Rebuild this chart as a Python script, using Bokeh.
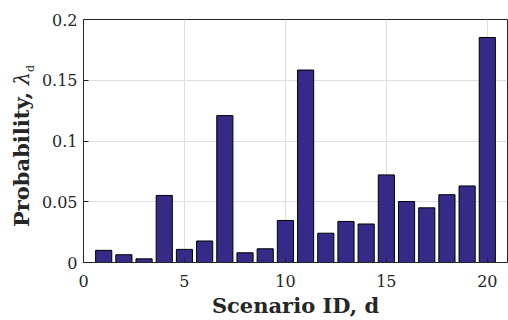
from bokeh.plotting import figure
from bokeh.models import Range1d, FixedTicker, Div
from bokeh.layouts import row
from bokeh.embed import file_html
from bokeh.resources import INLINE

scenario = list(range(1, 21))
prob = [0.0100, 0.0064, 0.0030, 0.0552, 0.0108, 0.0177, 0.1209, 0.0080, 0.0113, 0.0346,
        0.1584, 0.0241, 0.0338, 0.0317, 0.0721, 0.0502, 0.0450, 0.0558, 0.0630, 0.1852]
x_ticks = [0, 5, 10, 15, 20]
y_ticks = [0, 0.05, 0.1, 0.15, 0.2]
y_tick_labels = {0: "0", 0.05: "0.05", 0.1: "0.1", 0.15: "0.15", 0.2: "0.2"}

FONT = "DejaVu Serif"
H = 320
DW = 35                      # width of the y-label strip
W = 508 - DW
FL, FR, FT, FB = 83 - DW, 507 - DW, 19, 268  # frame edges in figure pixels
p = figure(width=W, height=H, output_backend="svg", toolbar_location=None,
           x_range=Range1d(0, 21), y_range=Range1d(0, 0.2),
           min_border_left=FL, min_border_right=W - FR, min_border_top=FT,
           min_border_bottom=H - FB, margin=0)

p.vbar(x=scenario, top=prob, width=0.8, fill_color="#352A87", line_color="black", line_width=1)

for ax in (p.xaxis[0], p.yaxis[0]):
    ax.major_tick_in = 5
    ax.major_tick_out = 0
    ax.minor_tick_in = 0
    ax.minor_tick_out = 0
    ax.axis_line_color = "#262626"
    ax.major_tick_line_color = "#262626"
    ax.major_label_text_font = FONT
    ax.major_label_text_font_size = "16px"
    ax.major_label_text_color = "#262626"
    ax.axis_label_text_font = FONT
    ax.axis_label_text_font_size = "21px"
    ax.axis_label_text_font_style = "bold"
    ax.axis_label_text_color = "#262626"

p.xaxis.ticker = FixedTicker(ticks=x_ticks)
p.yaxis.ticker = FixedTicker(ticks=y_ticks)
p.yaxis.major_label_overrides = y_tick_labels
p.xaxis.axis_label = "Scenario ID, d"
p.xaxis.axis_label_standoff = 3
p.xaxis.major_label_standoff = 12
p.yaxis.major_label_standoff = 6

p.xgrid.ticker = FixedTicker(ticks=x_ticks)
p.ygrid.ticker = FixedTicker(ticks=y_ticks)
p.grid.grid_line_color = "#E0E0E0"
p.grid.grid_line_width = 1

p.outline_line_color = "#262626"
p.outline_line_alpha = 1
p.background_fill_color = "white"
p.border_fill_color = "white"

# y-axis label "Probability, λ_d" as rotated HTML text beside the figure
ylabel_html = (
    '<div style="position:absolute; left:10px; top:227px; transform:rotate(-90deg); '
    'transform-origin:left top; white-space:nowrap; font-family:\'DejaVu Serif\'; '
    'font-size:21px; line-height:24px; color:#262626;">'
    '<b>Probability,</b> <i style="font-weight:normal">λ</i>'
    '<sub style="font-size:11px">d</sub></div>'
)
ylab = Div(text=ylabel_html, width=DW, height=H, margin=0,
           styles={"position": "relative", "overflow": "visible"})

layout = row(ylab, p, spacing=0)

open("out.html", "w").write(file_html(layout, INLINE))
